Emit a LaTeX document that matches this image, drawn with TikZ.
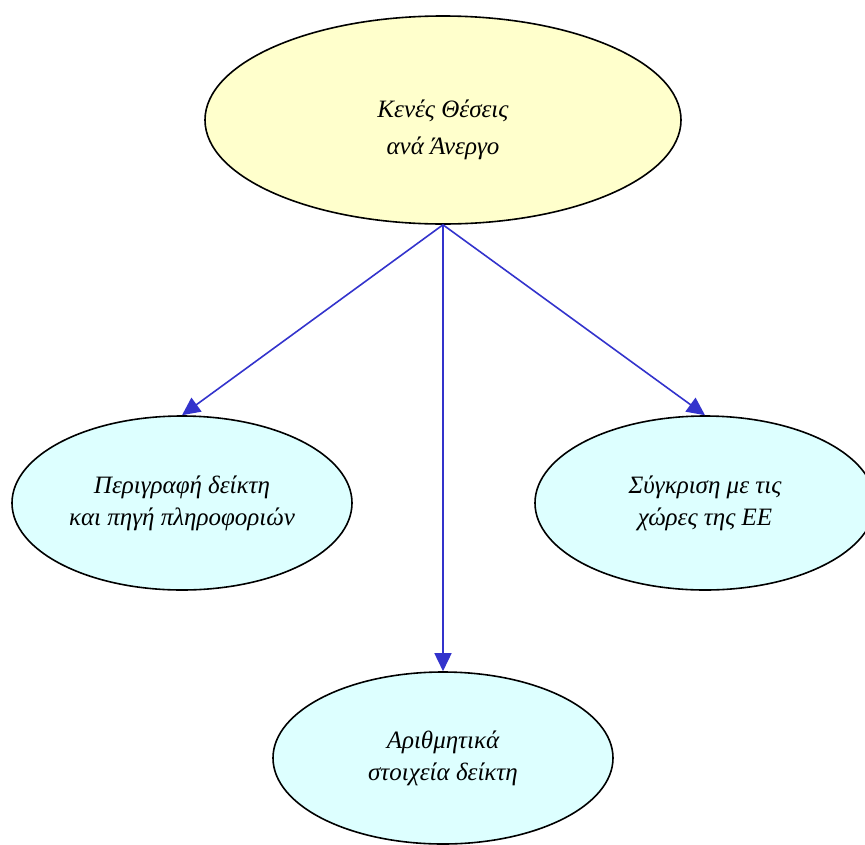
\documentclass[tikz,border=0pt]{standalone}
\usepackage{fontspec}
\setmainfont{Liberation Serif}
\usetikzlibrary{shapes.geometric,arrows.meta}
\definecolor{topfill}{RGB}{255,255,204}
\definecolor{subfill}{RGB}{221,255,255}
\definecolor{arrblue}{RGB}{51,51,204}
\tikzstyle{topic}=[ellipse,draw,fill=topfill,line width=1.6pt,inner sep=0pt,align=center,font=\itshape\fontsize{25}{37}\selectfont]
\tikzstyle{sub}=[ellipse,draw,fill=subfill,line width=1.6pt,inner sep=0pt,minimum width=340pt,minimum height=174pt,align=center,font=\itshape\fontsize{25}{32}\selectfont]
\tikzstyle{arr}=[-{Triangle[length=18pt,width=17pt]},draw=arrblue,line width=1.6pt]

\begin{document}
\begin{tikzpicture}[x=1pt,y=-1pt]
    \useasboundingbox (0,0) rectangle (865,844);
    \clip (0,0) rectangle (865,844);
    \node[topic,minimum width=476pt,minimum height=208pt] (V) at (443,120) {};
    \node[topic,fill=none,draw=none] (Vt) at (443,130) {Κενές Θέσεις\\ανά Άνεργο};
    \node[sub] (P) at (182,503) {Περιγραφή δείκτη\\και πηγή πληροφοριών};
    \node[sub] (S) at (705,503) {Σύγκριση με τις\\χώρες της ΕΕ};
    \node[sub,minimum height=172pt] (A) at (443,758) {Αριθμητικά\\στοιχεία δείκτη};
    \draw[arr] (V.south) -- (P.north);
    \draw[arr] (V.south) -- (S.north);
    \draw[arr] (V.south) -- (A.north);
  \end{tikzpicture}
\end{document}
